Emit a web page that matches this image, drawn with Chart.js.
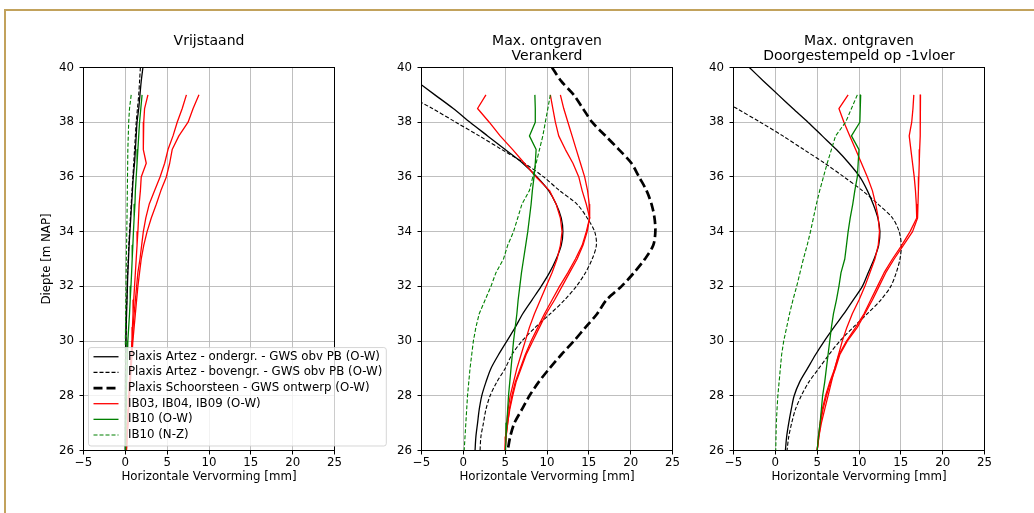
<!DOCTYPE html>
<html><head><meta charset="utf-8">
<script src="https://cdn.jsdelivr.net/npm/chart.js@4.4.0/dist/chart.umd.min.js"></script>
<style>
html,body{margin:0;padding:0;background:#fff;}
#wrap{position:relative;width:1034px;height:513px;overflow:hidden;background:#fff;}
#frame{position:absolute;left:4px;top:9px;width:1100px;height:600px;border-top:2px solid #c2a25c;border-left:2px solid #c2a25c;}
canvas{position:absolute;left:0;top:0;}
</style></head><body>
<div id="wrap"><div id="frame"></div>
<canvas id="c1" width="1034" height="513"></canvas>
<canvas id="c2" width="1034" height="513"></canvas>
<canvas id="c3" width="1034" height="513"></canvas>
</div>
<script>
// ---------- data ----------
const depthModel = [40,39.5,39,38.5,38,37.5,37,36.5,36,35.5,35,34.5,34,33.5,33,32.5,32,31.5,31,30.5,30,29.5,29,28.5,28,27.5,27,26.5,26];
const depthMeas  = [39,38.5,38,37.5,37,36.5,36,35.5,35,34.5,34,33.5,33,32.5,32,31.5,31,30.5,30,29.5,29,28.5,28,27.5,27,26.5,26];
const xTicks = [-5,0,5,10,15,20,25];
const yTicks = [26,28,30,32,34,36,38,40];
const panelTitles = [['Vrijstaand'], ['Max. ontgraven','Verankerd'], ['Max. ontgraven','Doorgestempeld op -1vloer']];
const xLabel = 'Horizontale Vervorming [mm]';
const yLabel = 'Diepte [m NAP]';
const legendLabels = ['Plaxis Artez - ondergr. - GWS obv PB (O-W)','Plaxis Artez - bovengr. - GWS obv PB (O-W)','Plaxis Schoorsteen - GWS ontwerp (O-W)','IB03, IB04, IB09 (O-W)','IB10 (O-W)','IB10 (N-Z)'];
const legendKinds  = ['onder','boven','schoor','ib','ib10ow','ib10nz'];

// Panel 1 - Vrijstaand
const p1Onder = [2.1,1.9,1.75,1.6,1.4,1.3,1.2,1.1,0.95,0.85,0.75,0.65,0.55,0.45,0.38,0.3,0.25,0.2,0.15,0.1,0.08,0.05,0.03,0.02,0.01,0.01,0,0,0];
const p1Boven = [1.8,1.7,1.6,1.45,1.3,1.2,1.1,1.0,0.9,0.8,0.7,0.6,0.5,0.42,0.35,0.28,0.22,0.17,0.12,0.09,0.06,0.04,0.02,0.01,0,0,0,0,0];
const p1IbA = [2.7,2.3,2.2,2.15,2.15,2.5,1.9,1.8,1.65,1.58,1.5,1.4,1.3,1.2,1.1,1.0,0.92,0.85,0.8,0.7,0.6,0.5,0.42,0.35,0.27,0.18,0.1];
const p1IbB = [7.3,6.8,6.2,5.7,5.1,4.7,4.15,3.5,2.85,2.45,2.15,1.95,1.75,1.5,1.35,1.2,1.05,0.92,0.85,0.75,0.65,0.55,0.45,0.38,0.3,0.2,0.12];
const p1IbC = [8.8,8.1,7.5,6.4,5.6,5.3,4.9,4.25,3.7,3.1,2.6,2.2,1.9,1.7,1.5,1.35,1.2,1.05,0.9,0.8,0.7,0.6,0.5,0.4,0.32,0.22,0.14];
const p1Ib10ow = [2.0,1.85,1.7,1.6,1.5,1.4,1.3,1.2,1.15,1.05,0.97,0.9,0.82,0.75,0.67,0.58,0.5,0.4,0.3,0.25,0.2,0.16,0.12,0.1,0.07,0.04,0.02];
const p1Ib10nz = [0.7,0.5,0.4,0.35,0.3,0.28,0.26,0.24,0.22,0.2,0.17,0.15,0.12,0.1,0.08,0.06,0.04,0.02,0,0,0,0,0,0,0,0,0];

// Panel 2 - Max. ontgraven, Verankerd
const p2Onder = [-7.8,-5.6,-3.4,-1.2,0.8,2.9,5.0,7.1,8.8,10.2,11.1,11.7,11.9,11.7,11.1,10.3,9.3,8.2,7.1,6.2,5.2,4.2,3.3,2.7,2.2,1.9,1.7,1.5,1.4];
const p2Boven = [-12.9,-9.8,-6.7,-3.7,-0.9,1.9,4.6,7.3,9.6,11.5,13.6,14.8,15.7,15.9,15.4,14.6,13.5,12.1,10.4,8.6,7.0,5.8,5.0,4.0,3.2,2.7,2.4,2.1,2.0];
const p2Schoor = [10.6,11.7,13.2,14.3,15.4,17.0,18.6,20.1,21.0,21.9,22.5,22.85,22.95,22.7,21.7,20.4,18.9,17.1,16.0,14.6,13.2,11.7,10.3,9.0,7.9,7.0,6.1,5.6,5.3];
const p2IbA = [2.7,1.7,3.1,4.4,5.9,7.3,8.7,10.3,11.1,11.6,11.8,11.6,11.2,10.6,9.9,9.2,8.5,7.9,7.4,6.9,6.4,6.0,5.6,5.35,5.2,5.05,5.0];
const p2IbB = [10.4,10.7,11.0,11.4,12.2,13.1,13.8,14.2,14.7,15.1,14.7,14.2,13.4,12.5,11.5,10.6,9.7,8.9,8.1,7.4,6.8,6.2,5.8,5.5,5.3,5.1,5.0];
const p2IbC = [11.6,12.0,12.5,13.0,13.5,14.0,14.5,14.85,15.05,15.1,14.8,14.3,13.6,12.7,11.8,10.9,9.9,9.1,8.3,7.5,6.9,6.3,5.9,5.55,5.3,5.1,5.0];
const p2Ib10ow = [8.55,8.6,8.6,7.9,8.7,8.6,8.45,8.25,8.1,7.9,7.7,7.45,7.2,6.95,6.75,6.55,6.4,6.2,6.0,5.85,5.7,5.55,5.4,5.3,5.2,5.1,5.05];
const p2Ib10nz = [10.4,10.1,9.8,9.5,9.1,8.7,8.3,7.9,7.0,6.5,6.0,5.3,4.8,3.9,3.3,2.6,1.9,1.5,1.2,1.0,0.8,0.65,0.5,0.4,0.3,0.2,0.1];

// Panel 3 - Max. ontgraven, Doorgestempeld op -1vloer
const p3Onder = [-3.1,-1.4,0.35,2.1,3.9,5.6,7.3,8.8,10.1,11.0,11.7,12.25,12.5,12.35,11.8,11.1,10.4,9.3,8.2,7.0,5.85,4.8,3.85,2.9,2.25,1.9,1.6,1.35,1.2];
const p3Boven = [-13.0,-10.2,-7.4,-4.6,-1.8,0.9,3.4,5.9,8.2,10.4,12.3,14.0,14.8,15.05,14.9,14.45,13.8,12.6,11.0,9.3,7.7,6.4,5.2,4.0,3.1,2.4,1.95,1.6,1.4];
const p3IbA = [8.7,7.6,8.2,8.9,9.6,10.3,11.0,11.6,12.0,12.3,12.45,12.3,11.9,11.3,10.7,10.0,9.2,8.55,8.0,7.55,7.1,6.7,6.3,5.9,5.5,5.2,5.0];
const p3IbB = [16.55,16.45,16.3,16.0,16.2,16.4,16.6,16.75,16.85,16.9,16.1,15.1,14.0,13.0,12.2,11.4,10.6,9.6,8.5,7.6,7.1,6.5,6.0,5.6,5.35,5.15,5.0];
const p3IbC = [17.35,17.35,17.3,17.3,17.25,17.2,17.15,17.1,17.05,17.0,16.4,15.3,14.2,13.2,12.4,11.6,10.7,9.8,8.6,7.7,7.2,6.6,6.1,5.7,5.4,5.2,5.0];
const p3Ib10ow = [10.2,10.15,10.1,9.1,10.0,9.9,9.8,9.5,9.25,8.95,8.7,8.5,8.3,7.85,7.6,7.3,6.95,6.7,6.5,6.3,6.1,5.9,5.65,5.5,5.35,5.15,5.0];
const p3Ib10nz = [9.8,9.1,8.4,7.2,6.7,6.2,5.75,5.3,4.9,4.55,4.2,3.8,3.35,2.95,2.55,2.1,1.7,1.35,1.0,0.75,0.6,0.45,0.3,0.2,0.12,0.08,0.05];

// ---------- styles ----------
const STYLE = {
  onder:  {borderColor:'#000000', borderWidth:1.3, borderDash:[], tension:0.3},
  boven:  {borderColor:'#000000', borderWidth:1.1, borderDash:[4,2], tension:0.3},
  schoor: {borderColor:'#000000', borderWidth:2.7, borderDash:[9,4], tension:0.3},
  ib:     {borderColor:'#ff0000', borderWidth:1.3, borderDash:[], tension:0},
  ib10ow: {borderColor:'#008000', borderWidth:1.3, borderDash:[], tension:0},
  ib10nz: {borderColor:'#008000', borderWidth:1.1, borderDash:[4,2], tension:0}
};

const panels = [
  {id:'c1', title:panelTitles[0], yTitle:true, legend:true, plotL:83.5, plotR:334.5,
   series:[['onder',depthModel,p1Onder],['boven',depthModel,p1Boven],['ib',depthMeas,p1IbA],['ib',depthMeas,p1IbB],['ib',depthMeas,p1IbC],['ib10ow',depthMeas,p1Ib10ow],['ib10nz',depthMeas,p1Ib10nz]]},
  {id:'c2', title:panelTitles[1], yTitle:false, legend:false, plotL:421.5, plotR:672.5,
   series:[['onder',depthModel,p2Onder],['boven',depthModel,p2Boven],['schoor',depthModel,p2Schoor],['ib',depthMeas,p2IbA],['ib',depthMeas,p2IbB],['ib',depthMeas,p2IbC],['ib10ow',depthMeas,p2Ib10ow],['ib10nz',depthMeas,p2Ib10nz]]},
  {id:'c3', title:panelTitles[2], yTitle:false, legend:false, plotL:733.5, plotR:984.5,
   series:[['onder',depthModel,p3Onder],['boven',depthModel,p3Boven],['ib',depthMeas,p3IbA],['ib',depthMeas,p3IbB],['ib',depthMeas,p3IbC],['ib10ow',depthMeas,p3Ib10ow],['ib10nz',depthMeas,p3Ib10nz]]}
];

Chart.defaults.font.family = "'DejaVu Sans', sans-serif";
Chart.defaults.color = '#000';

const W = 1034, H = 513;
const PLOT_TOP = 67.5, PLOT_BOTTOM = 450.5;
const YAXIS_W = 60, XAXIS_H = 40;
const FS = 11.8;

const framePlugin = {
  id:'mplFrame',
  afterDatasetsDraw(chart){
    const {ctx, chartArea:a} = chart;
    ctx.save();
    ctx.strokeStyle = '#000'; ctx.lineWidth = 1; ctx.setLineDash([]);
    ctx.strokeRect(a.left, a.top, a.right - a.left, a.bottom - a.top);
    ctx.restore();
  }
};

const legendPlugin = {
  id:'mplLegend',
  afterDraw(chart, args, opts){
    if (!opts.show) return;
    const {ctx, chartArea:a} = chart;
    ctx.save();
    ctx.font = FS + "px 'DejaVu Sans', sans-serif";
    let maxW = 0;
    legendLabels.forEach(t => { maxW = Math.max(maxW, ctx.measureText(t).width); });
    const bx = a.left + 5, rowH = 15.65, padTop = 9.2, n = legendLabels.length;
    const bh = padTop + (n - 1) * rowH + 11;
    const by = a.bottom - 4.5 - bh;
    const textX = bx + 39.4;
    const bw = textX - bx + maxW + 4;
    const r = 2.5;
    ctx.beginPath();
    ctx.moveTo(bx + r, by); ctx.lineTo(bx + bw - r, by); ctx.quadraticCurveTo(bx + bw, by, bx + bw, by + r);
    ctx.lineTo(bx + bw, by + bh - r); ctx.quadraticCurveTo(bx + bw, by + bh, bx + bw - r, by + bh);
    ctx.lineTo(bx + r, by + bh); ctx.quadraticCurveTo(bx, by + bh, bx, by + bh - r);
    ctx.lineTo(bx, by + r); ctx.quadraticCurveTo(bx, by, bx + r, by);
    ctx.closePath();
    ctx.fillStyle = 'rgba(255,255,255,0.8)'; ctx.fill();
    ctx.strokeStyle = 'rgba(204,204,204,0.8)'; ctx.lineWidth = 1; ctx.stroke();
    legendLabels.forEach((t, i) => {
      const cy = by + padTop + i * rowH;
      const s = STYLE[legendKinds[i]];
      ctx.beginPath();
      ctx.strokeStyle = s.borderColor; ctx.lineWidth = s.borderWidth; ctx.setLineDash(s.borderDash);
      ctx.moveTo(bx + 5, cy); ctx.lineTo(bx + 30, cy); ctx.stroke();
      ctx.setLineDash([]);
      ctx.fillStyle = '#000'; ctx.textBaseline = 'middle'; ctx.textAlign = 'left';
      ctx.fillText(t, textX, cy);
    });
    ctx.restore();
  }
};

const fmt = v => String(v).replace('-', '\u2212');

panels.forEach(p => {
  const ds = p.series.map(([kind, depth, vals]) => ({
    label: kind,
    data: vals.map((v, i) => ({x: v, y: depth[i]})),
    showLine: true, pointRadius: 0, pointHoverRadius: 0, fill: false, tension: STYLE[kind].tension,
    borderColor: STYLE[kind].borderColor, borderWidth: STYLE[kind].borderWidth, borderDash: STYLE[kind].borderDash,
    borderCapStyle: 'butt', borderJoinStyle: 'round'
  })).reverse();
  const titleLines = p.title.length;
  new Chart(document.getElementById(p.id), {
    type: 'scatter',
    data: {datasets: ds},
    options: {
      responsive: false, animation: false, devicePixelRatio: 1,
      events: [],
      layout: {padding: {left: p.plotL - YAXIS_W, right: W - p.plotR, top: 0, bottom: H - PLOT_BOTTOM - XAXIS_H}},
      plugins: {
        legend: {display: false}, tooltip: {enabled: false},
        title: {display: true, text: p.title, fullSize: false, color: '#000',
                font: {size: 14, lineHeight: 1.1, weight: 'normal'},
                padding: {top: 33.3, bottom: PLOT_TOP - 33.3 - 15.4 * titleLines}},
        mplLegend: {show: p.legend}
      },
      scales: {
        x: {
          type: 'linear', min: -5, max: 25,
          afterBuildTicks: s => { s.ticks = xTicks.map(v => ({value: v})); },
          afterFit: s => { s.height = XAXIS_H; s.paddingLeft = 0; s.paddingRight = 0; },
          ticks: {callback: fmt, font: {size: FS}, color: '#000', padding: 1, maxRotation: 0, autoSkip: false},
          grid: {color: '#b8b8b8', lineWidth: 0.9, tickColor: '#000', tickWidth: 1, tickLength: 4, drawTicks: true},
          border: {display: false},
          title: {display: true, text: xLabel, color: '#000', font: {size: FS, lineHeight: 1.2}, padding: {top: 0, bottom: 6.5}}
        },
        y: {
          type: 'linear', min: 26, max: 40,
          afterBuildTicks: s => { s.ticks = yTicks.map(v => ({value: v})); },
          afterFit: s => { s.width = YAXIS_W; s.paddingTop = 0; s.paddingBottom = 0; },
          ticks: {callback: fmt, font: {size: FS}, color: '#000', padding: 5.5, autoSkip: false},
          grid: {color: '#b8b8b8', lineWidth: 0.9, tickColor: '#000', tickWidth: 1, tickLength: 4, drawTicks: true},
          border: {display: false},
          title: {display: p.yTitle, text: yLabel, color: '#000', font: {size: FS, lineHeight: 1.2}, padding: {top: 16, bottom: 0}}
        }
      }
    },
    plugins: [framePlugin, legendPlugin]
  });
});
</script>
</body></html>
